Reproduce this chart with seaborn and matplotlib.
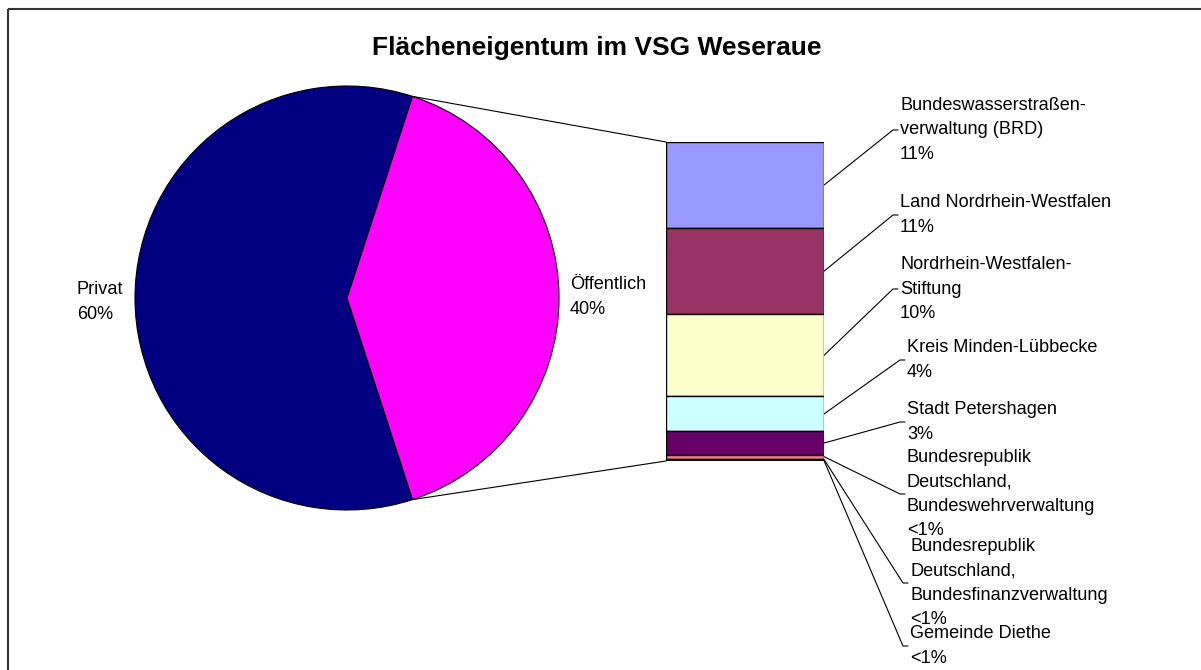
import numpy as np
import matplotlib
matplotlib.use("Agg")
import matplotlib.pyplot as plt
import seaborn as sns

# Data
pie_labels = ["Privat", "Öffentlich"]
pie_values = [60, 40]
pie_colors = ["#000080", "#FF00FF"]

bar_labels = [
    "Bundeswasserstraßen-\nverwaltung (BRD)",
    "Land Nordrhein-Westfalen",
    "Nordrhein-Westfalen-\nStiftung",
    "Kreis Minden-Lübbecke",
    "Stadt Petershagen",
    "Bundesrepublik\nDeutschland,\nBundeswehrverwaltung",
    "Bundesrepublik\nDeutschland,\nBundesfinanzverwaltung",
    "Gemeinde Diethe",
]
bar_values = [10.8, 10.8, 10.3, 4.4, 2.9, 0.5, 0.2, 0.1]
bar_pct_text = ["11%", "11%", "10%", "4%", "3%", "<1%", "<1%", "<1%"]
bar_colors = ["#9999FF", "#993366", "#FFFFCC", "#CCFFFF", "#660066",
              "#FF8080", "#0066CC", "#CCCCFF"]

sns.set_theme(style="white")
plt.rcParams["font.family"] = ["Liberation Sans", "DejaVu Sans"]
plt.rcParams["text.color"] = "black"

W, H = 1201, 670
fig = plt.figure(figsize=(W / 100, H / 100), dpi=100)
fig.patch.set_facecolor("white")

# overlay axes in pixel coordinates (y downwards)
ax = fig.add_axes([0, 0, 1, 1])

# pie
cx, cy, r = 347, 298, 212
start = 180 - pie_values[0] / 100 * 180
ax.pie(pie_values, colors=pie_colors, startangle=start, center=(cx, cy),
       radius=r, wedgeprops=dict(edgecolor="black", linewidth=0.8))
ax.set_xlim(0, W)
ax.set_ylim(H, 0)
ax.set_aspect("auto")
ax.axis("off")

fs = 13.1
ls = 1.58
ax.text(77, 302, f"{pie_labels[0]}\n{pie_values[0]}%", ha="left", va="center",
        fontsize=fs, linespacing=ls, color="black")
ax.text(570, 297, f"{pie_labels[1]}\n{pie_values[1]}%", ha="left", va="center",
        fontsize=fs, linespacing=ls, color="black")

ax.text(597, 48, "Flächeneigentum im VSG Weseraue", ha="center", va="center",
        fontsize=19, fontweight="bold", color="black")

# chart frame (runs off the right/bottom edge)
ax.add_patch(plt.Rectangle((8, 9), W + 20, H + 20, fill=False,
                           edgecolor="#333333", linewidth=1.5))

# bar of pie
bx0, bx1, by_top, by_bot = 666, 824, 142, 461
bar_ax = fig.add_axes([bx0 / W, 1 - by_bot / H, (bx1 - bx0) / W, (by_bot - by_top) / H])
total = sum(bar_values)
bottoms = total - np.cumsum(bar_values)
bar_ax.bar([0] * len(bar_values), bar_values, bottom=bottoms, width=1.0,
           color=bar_colors, edgecolor="black", linewidth=1.0)
bar_ax.set_xlim(-0.5, 0.5)
bar_ax.set_ylim(0, total)
bar_ax.axis("off")

# connector lines pie -> bar
ang = np.deg2rad(start)
ax.plot([cx + r * np.cos(ang), bx0], [cy - r * np.sin(ang), by_top], color="black", lw=0.8)
ax.plot([cx + r * np.cos(ang), bx0], [cy + r * np.sin(ang), by_bot], color="black", lw=0.8)

# bar labels with leader lines
label_pos = [(900, 130), (900, 215), (900, 289), (907, 360), (907, 422),
             (907, 494), (910, 583), (910, 646)]
scale = (by_bot - by_top) / total
for lab, pct, b, v, (tx, ty) in zip(bar_labels, bar_pct_text, bottoms, bar_values, label_pos):
    sy = by_bot - (b + v / 2) * scale
    ax.plot([bx1, tx - 7, tx - 2], [sy, ty, ty], color="black", lw=0.8)
    ax.text(tx, ty, f"{lab}\n{pct}", ha="left", va="center", fontsize=fs,
            linespacing=ls, color="black")

fig.savefig("out.png", dpi=100)
